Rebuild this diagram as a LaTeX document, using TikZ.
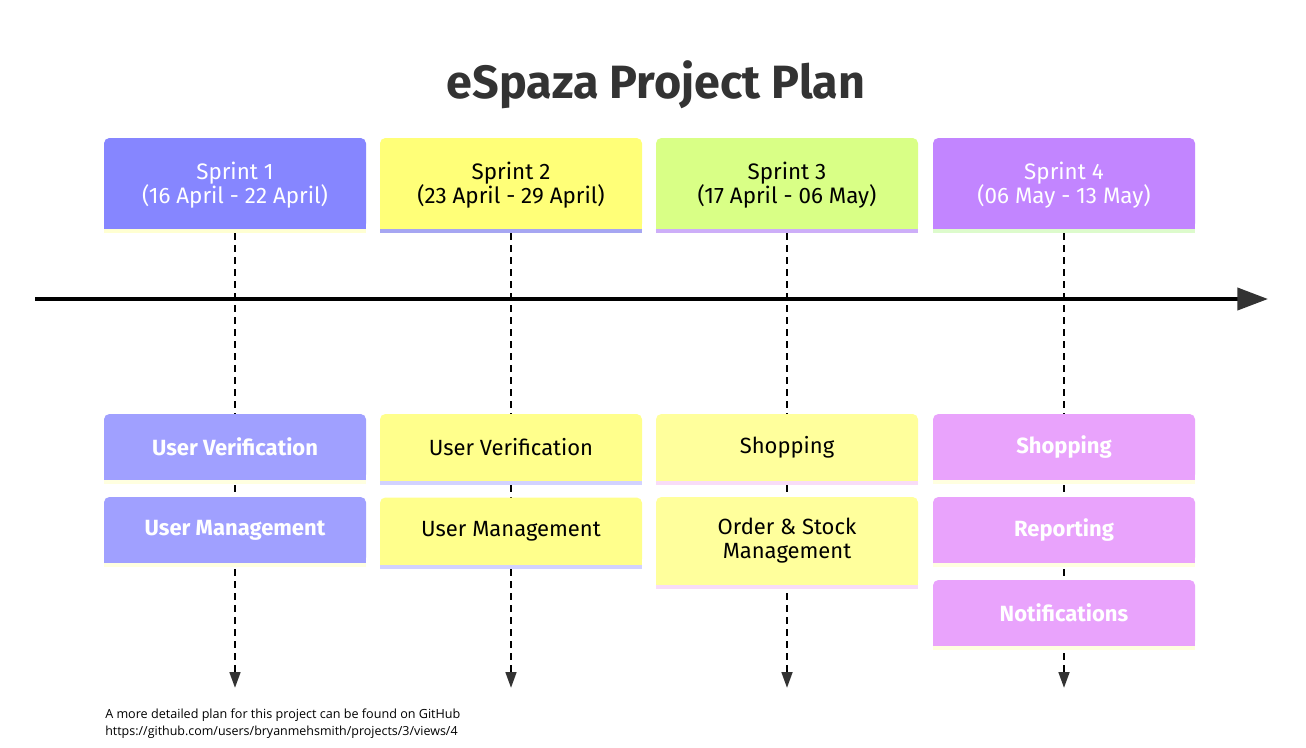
\documentclass[tikz,border=0pt]{standalone}
\usepackage{fontspec}
\setmainfont{Fira Sans}
\newfontfamily\footfont{Open Sans}
\usetikzlibrary{arrows.meta, backgrounds, calc}
\definecolor{titlegray}{HTML}{333333}
\definecolor{tipgray}{HTML}{333333}
\definecolor{sprintA}{HTML}{8686FF}
\definecolor{sprintB}{HTML}{FFFF78}
\definecolor{sprintC}{HTML}{D9FF86}
\definecolor{sprintD}{HTML}{C285FF}
\definecolor{stripA}{HTML}{FFFFD2}
\definecolor{stripB}{HTML}{A6A6F2}
\definecolor{stripC}{HTML}{CDAEF8}
\definecolor{stripD}{HTML}{DDFBCC}
\definecolor{taskA}{HTML}{A0A0FF}
\definecolor{taskB}{HTML}{FFFF8C}
\definecolor{taskC}{HTML}{FFFF9C}
\definecolor{taskD}{HTML}{E9A3FC}
\definecolor{tstripA}{HTML}{FFFFE0}
\definecolor{tstripB}{HTML}{D2D2FF}
\definecolor{tstripC}{HTML}{F8DCF8}
\definecolor{tstripD}{HTML}{FFFFE0}

\begin{document}
\begin{tikzpicture}[x=0.75pt,y=-0.75pt,
    sprintbox/.style={rounded corners=4pt, inner sep=0pt, minimum width=196.5pt,
        minimum height=68.25pt, align=center, font=\fontsize{16.8}{18}\selectfont},
    taskbox/.style={rounded corners=4pt, inner sep=0pt, minimum width=196.5pt,
        minimum height=49.5pt, align=center, font=\fontsize{16.5}{18}\selectfont},
    boldtask/.style={text=white, font=\fontsize{16.5}{18}\selectfont\bfseries},
    darktask/.style={text=black},
    sprintline/.style={black, line width=2pt, dash pattern=on 5pt off 4pt,
        -{Triangle[length=12pt, width=8pt, color=tipgray]}},
    timeline/.style={black, line width=3pt, -{Triangle[length=23pt, width=16.5pt, color=tipgray]}}]
    \useasboundingbox (0,0) rectangle (1306,747);
    % Title
    \node[text=titlegray, anchor=base, font=\fontsize{35}{40}\selectfont\bfseries] (title) at (656,98) {eSpaza Project Plan};
    % Sprint headers
    \foreach \i/\x/\c/\s/\t/\lbl in {
        1/235/sprintA/stripA/white/{Sprint 1\\(16 April - 22 April)},
        2/511/sprintB/stripB/black/{Sprint 2\\(23 April - 29 April)},
        3/787/sprintC/stripC/black/{Sprint 3\\(17 April - 06 May)},
        4/1064/sprintD/stripD/white/{Sprint 4\\(06 May - 13 May)}}
    {
        \node[sprintbox, fill=\c, text=\t] (sprint\i) at (\x,183.5) {\rule{0pt}{16pt}\lbl};
        \fill[\c] ($(sprint\i.south west)+(0,-6)$) rectangle (sprint\i.south east);
        \fill[\s] (sprint\i.south west) rectangle ($(sprint\i.south east)+(0,4)$);
        \coordinate (end\i) at (\x,688);
    }
    % Tasks
    \foreach \n/\x/\y/\h/\c/\s/\st/\lbl in {
        taskAa/235/447/49.5pt/taskA/tstripA/boldtask/{User Verification},
        taskAb/235/530/49.5pt/taskA/tstripA/boldtask/{User Management},
        taskBa/511/447.5/50.25pt/taskB/tstripB/darktask/{User Verification},
        taskBb/511/531/50.25pt/taskB/tstripB/darktask/{User Management},
        taskCa/787/447.5/50.25pt/taskC/tstripC/darktask/{Shopping},
        taskCb/787/541/66pt/taskC/tstripC/darktask/{Order \& Stock\\Management},
        taskDa/1064/447/49.5pt/taskD/tstripD/boldtask/{Shopping},
        taskDb/1064/530/49.5pt/taskD/tstripD/boldtask/{Reporting},
        taskDc/1064/613/49.5pt/taskD/tstripD/boldtask/{Notifications}}
    {
        \node[taskbox, minimum height=\h, fill=\c, \st] (\n) at (\x,\y) {\lbl};
        \fill[\c] ($(\n.south west)+(0,-6)$) rectangle (\n.south east);
        \fill[\s] (\n.south west) rectangle ($(\n.south east)+(0,4)$);
    }
    % Dashed sprint lines and the time axis
    \begin{pgfonlayer}{background}
        \fill[white] (0,0) rectangle (1306,747);
        \foreach \i in {1,2,3,4}
        {
            \draw[sprintline] ($(sprint\i.south)+(0,4)$) -- (end\i);
        }
    \end{pgfonlayer}
    \coordinate (axisstart) at (35,299);
    \coordinate (axisend) at (1268,299);
    \draw[timeline] (axisstart) -- (axisend);
    % Footer note
    \node[anchor=base west, inner sep=0pt, font=\footfont\fontsize{9.45}{10}\selectfont] (note) at (105,718) {A more detailed plan for this project can be found on GitHub};
    \node[anchor=base west, inner sep=0pt, font=\footfont\fontsize{9.35}{11}\selectfont] (link) at (105,735) {https://github.com/users/bryanmehsmith/projects/3/views/4};
\end{tikzpicture}
\end{document}
